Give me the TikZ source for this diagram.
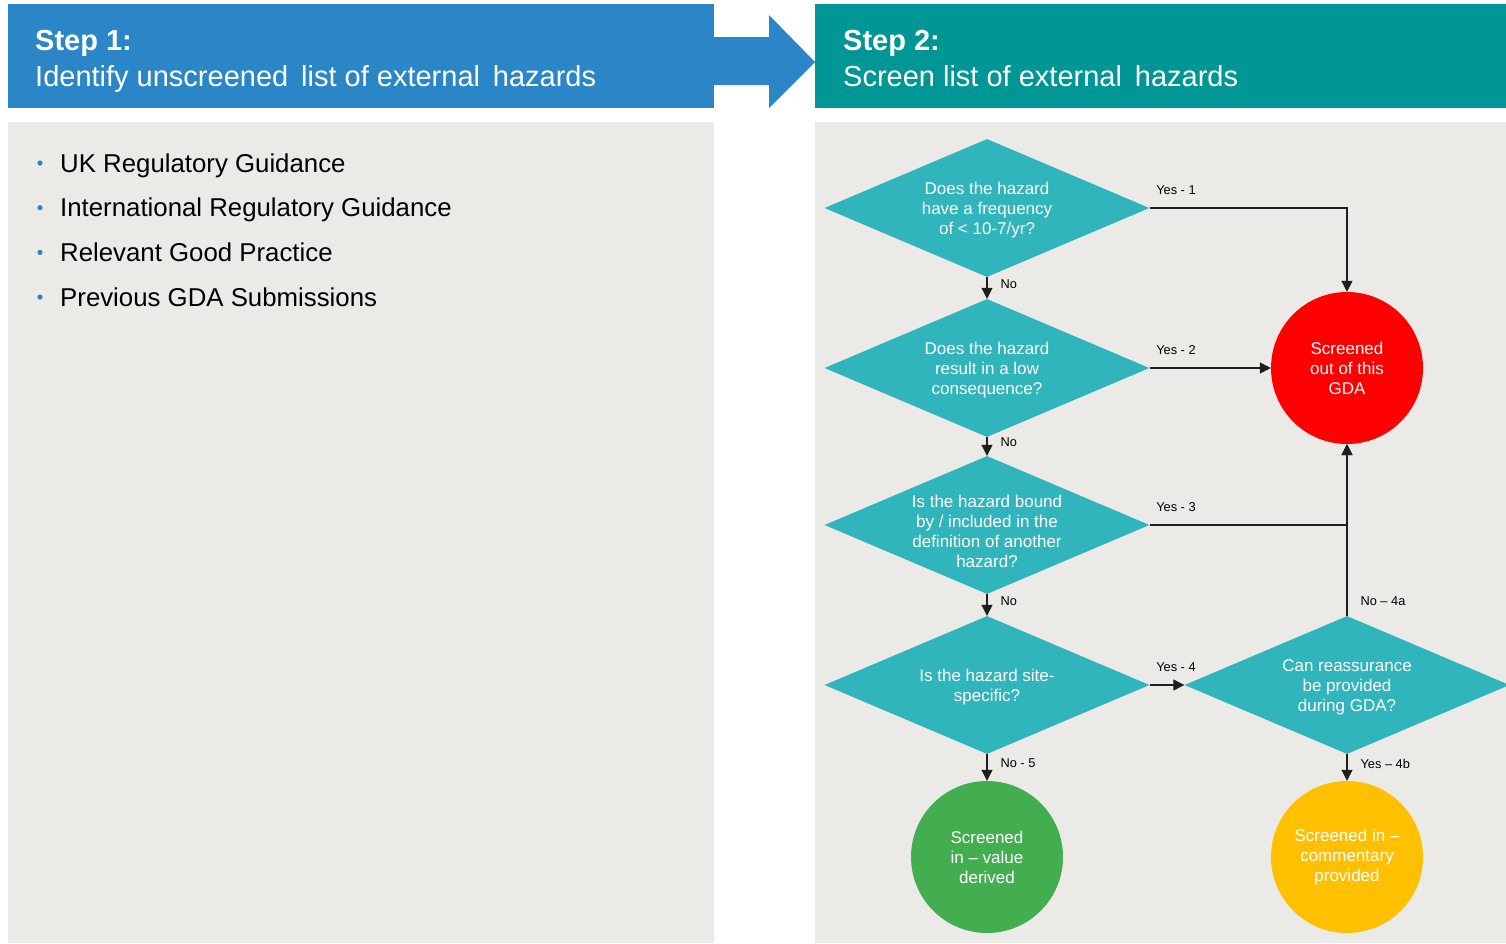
\documentclass[tikz,border=0pt]{standalone}
\usepackage{fontspec}
\setmainfont{Liberation Sans}
\usetikzlibrary{shapes.geometric,arrows.meta}
\definecolor{stepblue}{RGB}{43,134,199}
\definecolor{stepteal}{RGB}{0,150,150}
\definecolor{panelgray}{RGB}{235,234,230}
\definecolor{askteal}{RGB}{49,181,188}
\definecolor{outred}{RGB}{255,0,0}
\definecolor{ingreen}{RGB}{67,174,80}
\definecolor{inyellow}{RGB}{255,192,0}
\definecolor{linegray}{RGB}{30,30,30}

\begin{document}
\begin{tikzpicture}[x=1pt,y=-1pt,>={Triangle[length=11pt,width=11pt]},
	ask/.style={diamond,fill=askteal,minimum width=325pt,minimum height=138pt,inner sep=0pt},
	asktext/.style={text=white,align=center,yshift=-2pt,font=\fontsize{17}{20}\selectfont},
	endcircle/.style={circle,minimum size=152pt,inner sep=0pt,text=white,align=center,font=\fontsize{17}{20}\selectfont},
	flow/.style={->,line width=1.1pt,draw=linegray},
	yes/.style={pos=0,anchor=base west,inner sep=1pt,xshift=5pt,yshift=14pt,font=\fontsize{12.8}{15}\selectfont},
	no/.style={pos=.5,anchor=west,inner sep=1pt,xshift=12pt,yshift=4pt,font=\fontsize{12.8}{15}\selectfont},
	head/.style={anchor=base west,inner sep=0pt,text=white,font=\fontsize{29}{36}\selectfont},
	item/.style={anchor=base west,inner sep=0pt,font=\fontsize{25.8}{30}\selectfont}]
	\useasboundingbox (0,0) rectangle (1506,943);
	\fill[stepblue] (8,4) rectangle (714,108);
	\fill[stepteal] (815,4) rectangle (1506,108);
	\fill[stepblue] (714,37) -- (769,37) -- (769,15) -- (815,62) -- (769,108) -- (769,85) -- (714,85) -- cycle;
	\fill[panelgray] (8,122) rectangle (714,943);
	\fill[panelgray] (815,122) rectangle (1506,943);
	
	\node[head] (s1) at (35,50) {\bfseries Step 1:};
	\node[head] (s1t) at (35,86) {Identify unscreened\, list of external\, hazards};
	\node[head] (s2) at (843,50) {\bfseries Step 2:};
	\node[head] (s2t) at (843,86) {Screen list of external\, hazards};
	
	\foreach \t [count=\i] in {UK Regulatory Guidance,International Regulatory Guidance,Relevant Good Practice,Previous GDA Submissions}{
		\pgfmathsetmacro{\yy}{172+44.7*(\i-1)}
		\node[item] (src\i) at (60,\yy) {\t};
		\fill[stepblue] (40,\yy-9) circle (2.6pt);
	}
	
	\node[ask,label={[asktext]center:Does the hazard\\have a frequency\\of < 10-7/yr?}] (d1) at (987,208) {};
	\node[ask,label={[asktext]center:Does the hazard\\result in a low\\consequence?}] (d2) at (987,368) {};
	\node[ask,label={[asktext,yshift=-4pt]center:Is the hazard bound\\by / included in the\\definition of another\\hazard?}] (d3) at (987,525) {};
	\node[ask,label={[asktext]center:Is the hazard site-\\specific?}] (d4) at (987,685) {};
	\node[ask,label={[asktext]center:Can reassurance\\be provided\\during GDA?}] (d5) at (1347,685) {};
	
	\node[endcircle,fill=outred] (out) at (1347,368) {Screened\\out of this\\GDA};
	\node[endcircle,fill=ingreen] (val) at (987,857) {Screened\\in -- value\\derived};
	\node[endcircle,fill=inyellow] (com) at (1347,857) {Screened in --\\commentary\\provided};
	
	\draw[flow] (d1.south) -- (d2.north) node[no]{No};
	\draw[flow] (d2.south) -- (d3.north) node[no]{No};
	\draw[flow] (d3.south) -- (d4.north) node[no]{No};
	\draw[flow] (d4.south) -- (val.north) node[no]{No - 5};
	\draw[flow] (d5.south) -- (com.north) node[no]{Yes -- 4b};
	\draw[flow] (d1.east) -| (out.north) node[yes]{Yes - 1};
	\draw[flow] (d2.east) -- (out.west) node[yes]{Yes - 2};
	\draw[flow] (d3.east) -| (out.south) node[yes]{Yes - 3};
	\draw[flow] (d4.east) -- (d5.west) node[yes]{Yes - 4};
	\draw[flow] (d5.north) -- (out.south) node[pos=0,anchor=base west,inner sep=1pt,xshift=12pt,yshift=10pt,font=\fontsize{12.8}{15}\selectfont]{No -- 4a};
\end{tikzpicture}
\end{document}
